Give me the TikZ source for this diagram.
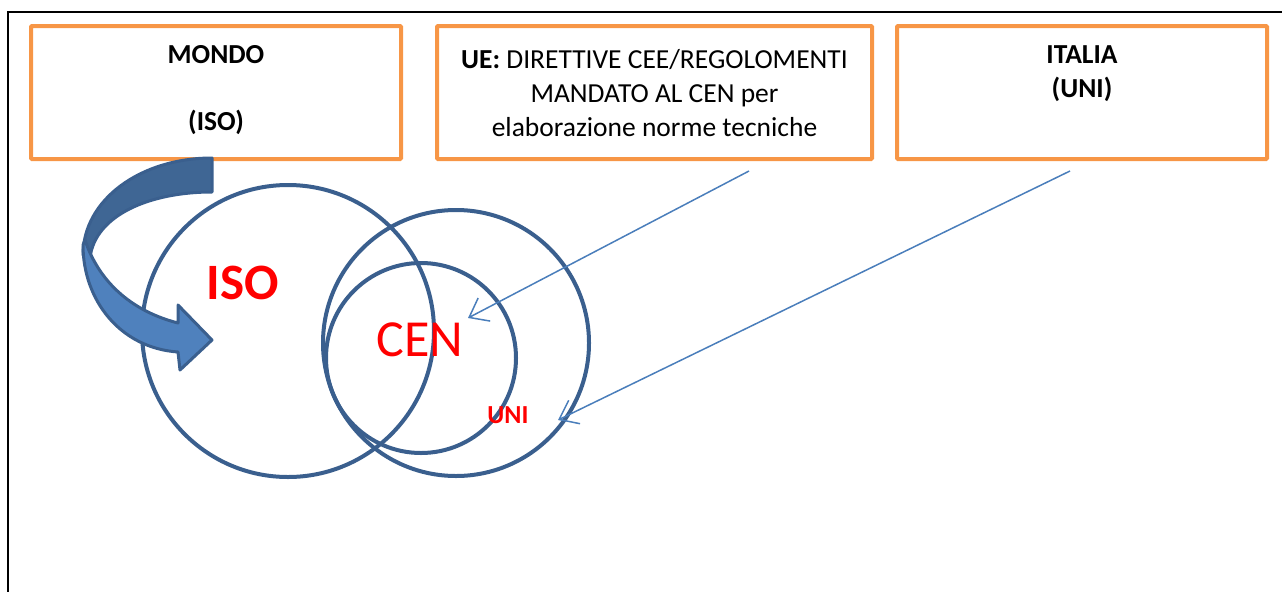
\documentclass[tikz,border=0pt]{standalone}
\usepackage{fontspec}
\setmainfont{Carlito}
\usepackage{tikz}
\usetikzlibrary{positioning,arrows.meta}
\definecolor{boxorange}{HTML}{F79646}
\definecolor{ringblue}{HTML}{3A5F8E}
\definecolor{linkblue}{HTML}{4A7EBB}
\definecolor{arrowdark}{HTML}{3F6694}
\definecolor{arrowlight}{HTML}{4F81BD}

\begin{document}
\begin{tikzpicture}[x=1pt, y=-1pt,
    box/.style={draw=boxorange, line width=4pt, rounded corners=1pt, minimum width=370pt,
                minimum height=133pt, outer sep=0pt, inner sep=0pt},
    boxtext/.style={align=center, inner sep=0pt, font=\fontsize{27.5}{34}\selectfont},
    ring/.style={circle, draw=ringblue, line width=4pt, inner sep=0pt},
    redtext/.style={text=red, inner sep=0pt},
    link/.style={draw=linkblue, line width=1.5pt, -{Straight Barb[length=17pt, width=26pt]}},
    bent/.style={draw=ringblue, line width=3pt, line join=round}]
    \useasboundingbox (0,0) rectangle (1282,592);
    \draw[line width=1.5pt] (1282,12) -- (8,12) -- (8,592);

    % boxes on top
    \node[box] (mondo) at (216,92.5) {};
    \node[box, minimum width=435pt] (ue) at (654.5,92.5) {};
    \node[box] (italia) at (1082,92.5) {};
    \node[boxtext, font=\fontsize{27.5}{34}\selectfont\bfseries, below=19pt of mondo.north] (mondotxt) {MONDO\\[33pt](ISO)};
    \node[boxtext, yshift=-1pt] (uetxt) at (ue) {\textbf{UE:} DIRETTIVE CEE/REGOLOMENTI\\MANDATO AL CEN per\\elaborazione norme tecniche};
    \node[boxtext, font=\fontsize{27.5}{34}\selectfont\bfseries, below=19pt of italia.north] (italiatxt) {ITALIA\\(UNI)};

    % circles
    \node[ring, minimum size=292pt] (iso) at (288,331) {};
    \node[ring, minimum size=266pt] (eu) at (456,343) {};
    \node[ring, minimum size=190pt] (cen) at (421,358) {};
    \node[redtext, font=\fontsize{51}{60}\selectfont\bfseries] (isolbl) at (243,283) {ISO};
    \node[redtext, font=\fontsize{52}{60}\selectfont] (cenlbl) at (420,340) {CEN};
    \node[redtext, font=\fontsize{26}{30}\selectfont\bfseries] (unilbl) at (508,415) {UNI};

    % curved arrow
    \filldraw[bent, fill=arrowdark] (212,158) .. controls (140,158) and (83,200) .. (83,255)
        -- (90,258) .. controls (95,215) and (150,192) .. (212,192) -- cycle;
    \filldraw[bent, fill=arrowlight] (83,245) .. controls (83,300) and (120,348) .. (178,352)
        -- (180,370) -- (212,340) -- (178,305) -- (178,323)
        .. controls (135,312) and (100,285) .. (85,240) -- cycle;

    % links
    \coordinate (uetail) at (749,171);
    \coordinate (uetip) at (468,318);
    \coordinate (ittail) at (1070,171);
    \coordinate (ittip) at (558,420);
    \draw[link] (uetail) -- (uetip);
    \draw[link] (ittail) -- (ittip);
  \end{tikzpicture}
\end{document}
